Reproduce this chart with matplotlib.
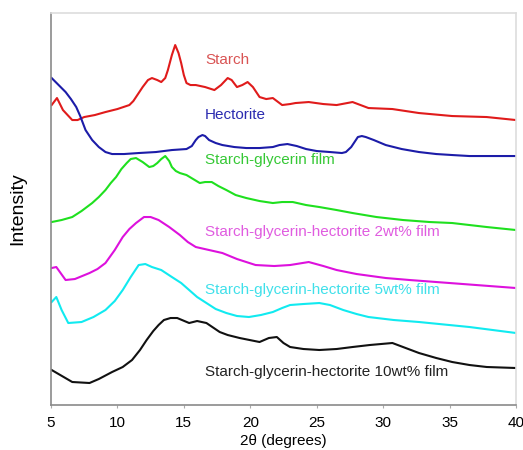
import matplotlib
matplotlib.use("Agg")
import matplotlib.pyplot as plt

plt.rcParams['font.family'] = ['Liberation Sans', 'DejaVu Sans']

# 2theta (degrees) / offset intensity for each pattern
starch_x = [5.05, 5.45, 5.9, 6.6, 7.0, 7.5, 8.3, 9.1, 10.0, 10.9, 11.2, 11.5, 11.9, 12.3, 12.6,
            13.0, 13.3, 13.6, 13.8, 14.1, 14.35, 14.6, 14.8, 15.0, 15.2, 15.5, 15.9, 16.6,
            17.3, 17.8, 18.3, 18.6, 19.0, 19.4, 19.8, 20.2, 20.7, 21.2, 21.7, 22.4, 23.0,
            23.4, 24.4, 25.5, 26.5, 27.7, 28.9, 30.7, 32.7, 35.2, 37.8, 40.0]
starch_y = [300, 307, 295, 285, 285, 288, 290, 293, 296, 300, 304, 310, 318, 325, 327,
            325, 323, 327, 335, 350, 360, 352, 342, 330, 322, 320, 320, 318,
            315, 320, 327, 325, 318, 320, 323, 318, 308, 306, 307, 300, 301,
            302, 303, 301, 300, 303, 297, 296, 292, 289, 288, 285]

hect_x = [5.05, 5.5, 6.1, 6.5, 6.9, 7.2, 7.6, 8.1, 8.6, 9.1, 9.6, 10.5, 11.6, 12.9, 14.1,
          15.2, 15.6, 15.9, 16.1, 16.4, 16.6, 16.9, 17.4, 17.9, 18.8, 19.7, 20.7, 21.7,
          22.2, 22.8, 23.5, 24.2, 25.0, 26.0, 26.9, 27.2, 27.6, 27.9, 28.1, 28.4, 28.7,
          29.3, 30.2, 31.4, 32.7, 34.0, 35.2, 36.5, 37.8, 40.0]
hect_y = [327, 321, 313, 306, 298, 289, 275, 265, 258, 253, 251, 251, 252, 253, 255,
          256, 259, 265, 268, 270, 269, 265, 262, 260, 258, 257, 257, 258,
          260, 261, 259, 256, 254, 253, 252, 253, 258, 264, 268, 269, 268,
          265, 260, 256, 253, 251, 250, 249, 249, 249]

sg_x = [5.05, 5.8, 6.6, 7.3, 8.1, 8.6, 9.1, 9.5, 9.9, 10.3, 10.7, 11.0, 11.4, 11.9, 12.4,
        12.7, 13.0, 13.3, 13.6, 13.9, 14.1, 14.4, 14.7, 15.2, 15.7, 16.2, 16.6, 17.1,
        17.6, 18.2, 18.9, 19.7, 20.7, 21.7, 22.4, 23.2, 24.2, 25.2, 26.5, 27.7, 29.5,
        31.5, 33.5, 35.2, 36.5, 37.8, 40.0]
sg_y = [183, 185, 188, 194, 202, 208, 215, 222, 228, 236, 242, 246, 247, 243, 238,
        239, 242, 246, 249, 244, 238, 234, 232, 230, 226, 222, 223, 223,
        219, 215, 210, 207, 204, 202, 203, 203, 200, 198, 195, 192, 188,
        185, 183, 182, 180, 178, 175]

h2_x = [5.05, 5.4, 6.1, 6.8, 7.9, 8.5, 9.1, 9.8, 10.4, 10.9, 11.4, 12.0, 12.5, 13.1, 13.9,
        14.7, 15.3, 15.9, 16.9, 17.9, 19.0, 20.4, 21.8, 23.0, 24.4, 25.5, 26.5, 28.0,
        30.2, 32.0, 34.0, 37.0, 40.0]
h2_y = [137, 138, 125, 126, 132, 136, 142, 155, 168, 176, 182, 188, 188, 185, 178,
        170, 163, 158, 155, 152, 146, 140, 139, 140, 143, 139, 135, 131,
        127, 125, 123, 120, 117]

h5_x = [5.05, 5.4, 5.8, 6.3, 7.3, 8.2, 9.1, 9.8, 10.4, 11.0, 11.6, 12.1, 12.6, 13.3, 14.1,
        14.8, 15.4, 16.0, 16.7, 17.4, 18.2, 19.0, 19.9, 20.8, 21.7, 22.4, 23.0, 24.0,
        25.2, 26.0, 27.0, 28.0, 28.9, 30.8, 32.7, 36.5, 40.0]
h5_y = [103, 108, 95, 82, 83, 88, 95, 104, 115, 128, 140, 141, 138, 135, 128,
        122, 115, 108, 102, 96, 92, 89, 88, 90, 93, 97, 100, 101,
        102, 100, 95, 91, 88, 85, 83, 78, 72]

h10_x = [5.05, 6.6, 7.9, 8.6, 9.6, 10.4, 11.1, 11.7, 12.2, 12.7, 13.1, 13.5, 14.0, 14.5,
         15.4, 16.0, 16.7, 17.7, 18.3, 19.2, 20.7, 21.4, 22.0, 22.5, 23.0, 24.0, 25.2,
         26.5, 27.7, 29.0, 30.7, 31.5, 32.7, 34.0, 35.2, 36.5, 37.8, 40.0]
h10_y = [35, 23, 22, 26, 33, 38, 45, 55, 65, 74, 80, 85, 87, 87,
         82, 84, 82, 73, 70, 67, 63, 67, 68, 62, 58, 56, 55,
         56, 58, 60, 62, 58, 52, 47, 43, 40, 38, 37]

series = [
    (starch_x, starch_y, '#e01b1b', 'Starch', '#d95454', 345),
    (hect_x, hect_y, '#1c1ca8', 'Hectorite', '#2b2bb0', 290),
    (sg_x, sg_y, '#1fe01f', 'Starch-glycerin film', '#35c835', 245),
    (h2_x, h2_y, '#dd11dd', 'Starch-glycerin-hectorite 2wt% film', '#e05ce0', 173),
    (h5_x, h5_y, '#11eaf0', 'Starch-glycerin-hectorite 5wt% film', '#40e0ea', 115),
    (h10_x, h10_y, '#111111', 'Starch-glycerin-hectorite 10wt% film', '#222222', 33),
]

fig = plt.figure(figsize=(5.23, 4.5), dpi=100)
ax = fig.add_axes([0.0975, 0.1, 0.889, 0.871])

for x, y, c, label, tc, ty in series:
    ax.plot(x, y, color=c, lw=1.5)
    ax.text(16.6, ty, label, color=tc, fontsize=11, va='center', ha='left')

ax.set_xlim(5, 40)
ax.set_ylim(0, 392)
ax.set_xticks([5, 10, 15, 20, 25, 30, 35, 40])
ax.set_yticks([])
ax.tick_params(axis='x', length=2, color='#aaaaaa', labelsize=11, pad=6)
ax.set_xlabel('2θ (degrees)', fontsize=11, labelpad=3)
ax.set_ylabel('Intensity', fontsize=14)
ax.yaxis.set_label_coords(-0.054, 0.5)

for s in ['left', 'bottom']:
    ax.spines[s].set_color('#8a8a8a')
    ax.spines[s].set_linewidth(1.2)
for s in ['top', 'right']:
    ax.spines[s].set_color('#dddddd')
    ax.spines[s].set_linewidth(1.2)

fig.savefig('out.png', dpi=100)
